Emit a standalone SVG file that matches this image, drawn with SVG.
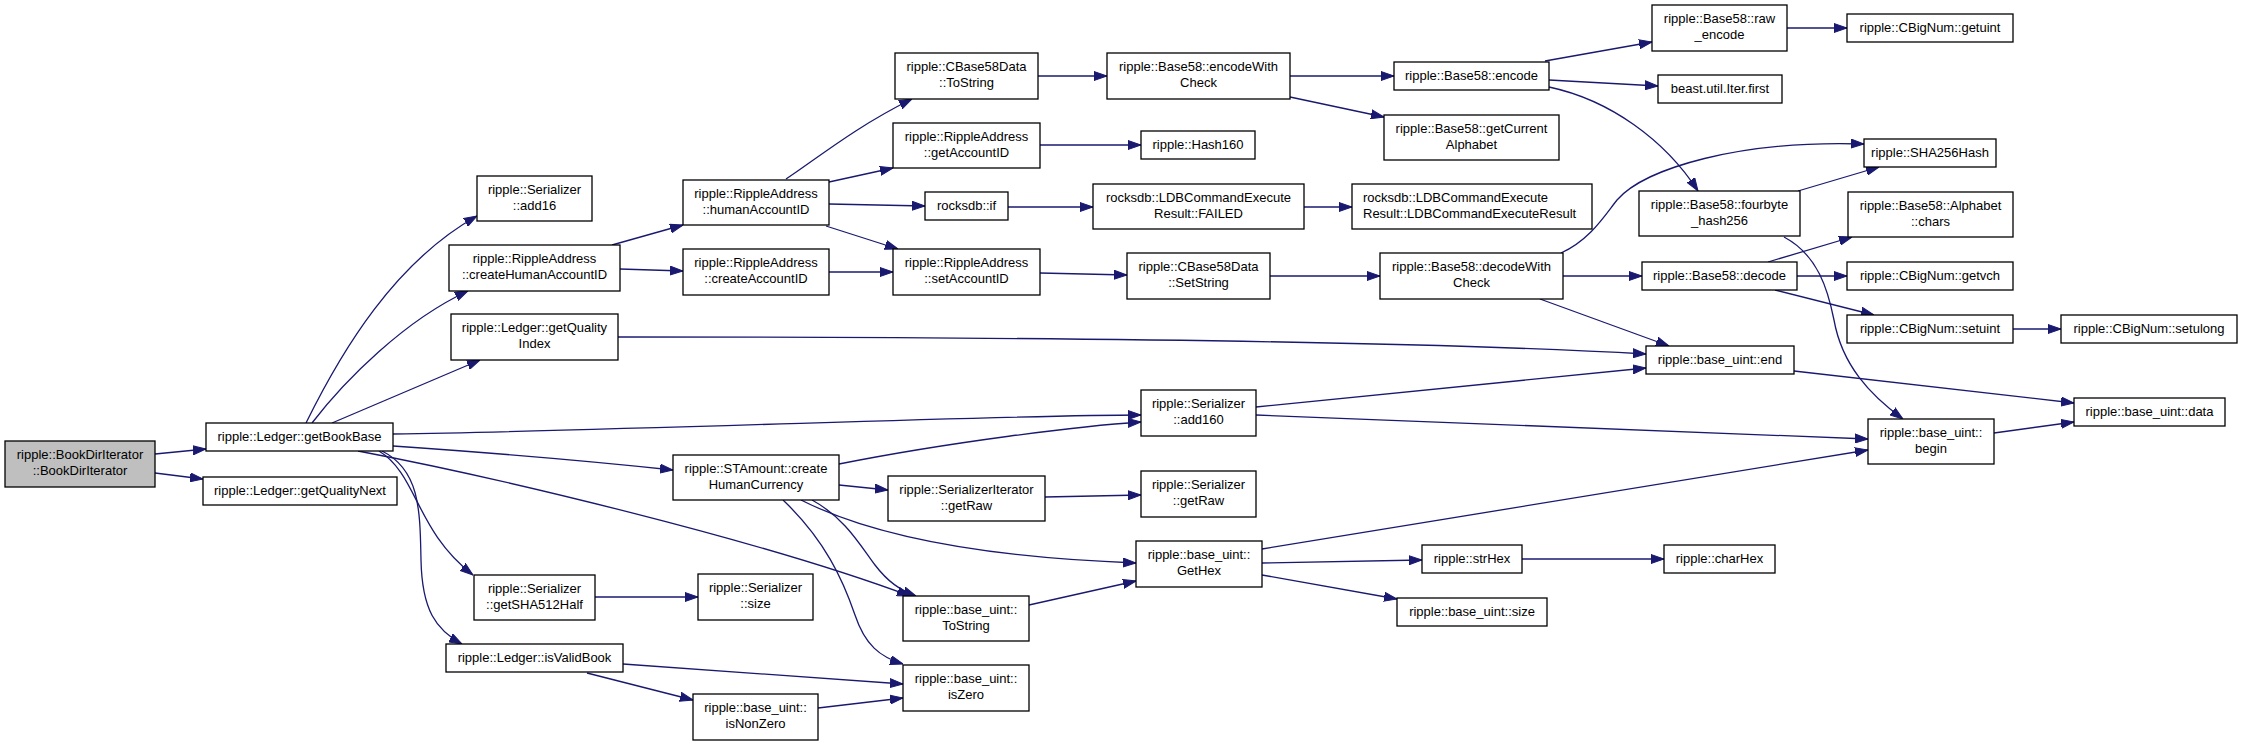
<svg xmlns="http://www.w3.org/2000/svg" width="2243" height="745" viewBox="0 0 2243 745">
<style>
.n rect{fill:#fff;stroke:#000;stroke-width:1.3}
.n.g rect{fill:#bfbfbf}
.n text{font-family:"Liberation Sans",Arial,sans-serif;font-size:13px;fill:#000;text-anchor:middle}
.e path{fill:none;stroke:#191970;stroke-width:1.3;marker-end:url(#a)}
</style>
<defs>
<marker id="a" viewBox="0 0 13 10" refX="13" refY="5" markerWidth="13" markerHeight="10" markerUnits="userSpaceOnUse" orient="auto"><path d="M0,0.5L13,5L0,9.5z" fill="#191970" stroke="#191970" stroke-width="1"/></marker>
</defs>
<rect width="2243" height="745" fill="#fff"/>
<g class="e" id="edges">
<path d="M155,454 L206,449"/>
<path d="M155,473 L203,479"/>
<path d="M306,423 C342,350 395,262 477,216"/>
<path d="M312,423 C345,380 405,320 468,291"/>
<path d="M332,423 L480,360"/>
<path d="M393,434 C650,430 1000,415 1141,415"/>
<path d="M393,446 C480,452 580,460 673,470"/>
<path d="M358,451 C500,478 760,540 910,596"/>
<path d="M379,451 C418,475 415,530 473,575"/>
<path d="M382,451 C420,470 420,510 421,560 C422,610 436,630 462,644"/>
<path d="M595,597 L698,597"/>
<path d="M623,664 L903,684"/>
<path d="M587,673 L693,700"/>
<path d="M818,708 L903,698"/>
<path d="M612,245 L683,225"/>
<path d="M620,269 L683,271"/>
<path d="M786,179 C815,160 855,127 912,99"/>
<path d="M829,182 L893,168"/>
<path d="M829,204 L925,206"/>
<path d="M826,226 L898,249"/>
<path d="M829,272 L893,272"/>
<path d="M1038,76 L1107,76"/>
<path d="M1040,145 L1141,145"/>
<path d="M1008,207 L1093,207"/>
<path d="M1040,273 L1127,275"/>
<path d="M1290,76 L1394,76"/>
<path d="M1290,97 L1384,117"/>
<path d="M1304,207 L1352,207"/>
<path d="M1270,276 L1380,276"/>
<path d="M1545,61 L1652,42"/>
<path d="M1549,80 L1658,86"/>
<path d="M1549,87 C1610,100 1665,140 1698,191"/>
<path d="M1561,253 C1590,240 1605,215 1617,200 C1645,168 1740,140 1864,144"/>
<path d="M1798,191 L1879,167"/>
<path d="M1784,237 C1818,255 1828,290 1834,320 C1842,365 1870,395 1903,419"/>
<path d="M1563,276 L1642,276"/>
<path d="M1540,299 L1669,346"/>
<path d="M1768,262 L1852,237"/>
<path d="M1797,276 L1847,276"/>
<path d="M1775,290 L1874,315"/>
<path d="M2013,329 L2061,329"/>
<path d="M1787,28 L1847,28"/>
<path d="M618,337 C950,337 1400,340 1646,354"/>
<path d="M1256,407 L1646,368"/>
<path d="M1256,415 C1500,423 1720,433 1868,439"/>
<path d="M1262,549 L1868,450"/>
<path d="M1262,563 L1422,560"/>
<path d="M1262,575 L1397,599"/>
<path d="M1522,559 L1664,559"/>
<path d="M1794,371 L2074,403"/>
<path d="M1994,433 L2074,422"/>
<path d="M1045,497 L1141,495"/>
<path d="M1029,605 L1136,581"/>
<path d="M839,464 C950,442 1080,426 1141,422"/>
<path d="M839,485 L888,490"/>
<path d="M812,500 C845,518 860,545 875,565 C888,582 900,590 916,596"/>
<path d="M783,500 C825,540 843,580 855,615 C865,645 880,657 903,664"/>
<path d="M801,500 C880,540 1000,558 1136,563"/>
</g>
<g class="n g" id="n1"><rect x="5" y="441" width="150" height="46"/><text x="80" y="458.5">ripple::BookDirIterator</text><text x="80" y="475">::BookDirIterator</text></g>
<g class="n" id="n2"><rect x="206" y="423" width="187" height="28"/><text x="299.5" y="441">ripple::Ledger::getBookBase</text></g>
<g class="n" id="n3"><rect x="203" y="477" width="194" height="28"/><text x="300" y="495">ripple::Ledger::getQualityNext</text></g>
<g class="n" id="n4"><rect x="477" y="176" width="115" height="45"/><text x="534.5" y="193.5">ripple::Serializer</text><text x="534.5" y="210">::add16</text></g>
<g class="n" id="n5"><rect x="449" y="245" width="171" height="46"/><text x="534.5" y="262.5">ripple::RippleAddress</text><text x="534.5" y="279">::createHumanAccountID</text></g>
<g class="n" id="n6"><rect x="451" y="314" width="167" height="46"/><text x="534.5" y="331.5">ripple::Ledger::getQuality</text><text x="534.5" y="348">Index</text></g>
<g class="n" id="n7"><rect x="474" y="575" width="121" height="45"/><text x="534.5" y="592.5">ripple::Serializer</text><text x="534.5" y="609">::getSHA512Half</text></g>
<g class="n" id="n8"><rect x="446" y="644" width="177" height="28"/><text x="534.5" y="662">ripple::Ledger::isValidBook</text></g>
<g class="n" id="n9"><rect x="683" y="180" width="146" height="45"/><text x="756" y="197.5">ripple::RippleAddress</text><text x="756" y="214">::humanAccountID</text></g>
<g class="n" id="n10"><rect x="683" y="249" width="146" height="46"/><text x="756" y="266.5">ripple::RippleAddress</text><text x="756" y="283">::createAccountID</text></g>
<g class="n" id="n11"><rect x="673" y="455" width="166" height="45"/><text x="756" y="472.5">ripple::STAmount::create</text><text x="756" y="489">HumanCurrency</text></g>
<g class="n" id="n12"><rect x="698" y="574" width="115" height="46"/><text x="755.5" y="591.5">ripple::Serializer</text><text x="755.5" y="608">::size</text></g>
<g class="n" id="n13"><rect x="693" y="694" width="125" height="46"/><text x="755.5" y="711.5">ripple::base_uint::</text><text x="755.5" y="728">isNonZero</text></g>
<g class="n" id="n14"><rect x="895" y="53" width="143" height="46"/><text x="966.5" y="70.5">ripple::CBase58Data</text><text x="966.5" y="87">::ToString</text></g>
<g class="n" id="n15"><rect x="893" y="123" width="147" height="45"/><text x="966.5" y="140.5">ripple::RippleAddress</text><text x="966.5" y="157">::getAccountID</text></g>
<g class="n" id="n16"><rect x="925" y="192" width="83" height="28"/><text x="966.5" y="210">rocksdb::if</text></g>
<g class="n" id="n17"><rect x="893" y="249" width="147" height="46"/><text x="966.5" y="266.5">ripple::RippleAddress</text><text x="966.5" y="283">::setAccountID</text></g>
<g class="n" id="n18"><rect x="888" y="476" width="157" height="45"/><text x="966.5" y="493.5">ripple::SerializerIterator</text><text x="966.5" y="510">::getRaw</text></g>
<g class="n" id="n19"><rect x="903" y="596" width="126" height="45"/><text x="966" y="613.5">ripple::base_uint::</text><text x="966" y="630">ToString</text></g>
<g class="n" id="n20"><rect x="903" y="665" width="126" height="46"/><text x="966" y="682.5">ripple::base_uint::</text><text x="966" y="699">isZero</text></g>
<g class="n" id="n21"><rect x="1107" y="53" width="183" height="46"/><text x="1198.5" y="70.5">ripple::Base58::encodeWith</text><text x="1198.5" y="87">Check</text></g>
<g class="n" id="n22"><rect x="1141" y="131" width="114" height="28"/><text x="1198" y="149">ripple::Hash160</text></g>
<g class="n" id="n23"><rect x="1093" y="184" width="211" height="45"/><text x="1198.5" y="201.5">rocksdb::LDBCommandExecute</text><text x="1198.5" y="218">Result::FAILED</text></g>
<g class="n" id="n24"><rect x="1127" y="253" width="143" height="46"/><text x="1198.5" y="270.5">ripple::CBase58Data</text><text x="1198.5" y="287">::SetString</text></g>
<g class="n" id="n25"><rect x="1141" y="390" width="115" height="46"/><text x="1198.5" y="407.5">ripple::Serializer</text><text x="1198.5" y="424">::add160</text></g>
<g class="n" id="n26"><rect x="1141" y="471" width="115" height="46"/><text x="1198.5" y="488.5">ripple::Serializer</text><text x="1198.5" y="505">::getRaw</text></g>
<g class="n" id="n27"><rect x="1136" y="541" width="126" height="46"/><text x="1199" y="558.5">ripple::base_uint::</text><text x="1199" y="575">GetHex</text></g>
<g class="n" id="n28"><rect x="1394" y="62" width="155" height="28"/><text x="1471.5" y="80">ripple::Base58::encode</text></g>
<g class="n" id="n29"><rect x="1384" y="115" width="175" height="45"/><text x="1471.5" y="132.5">ripple::Base58::getCurrent</text><text x="1471.5" y="149">Alphabet</text></g>
<g class="n" id="n30"><rect x="1352" y="184" width="240" height="45"/><text x="1363" y="201.5" style="text-anchor:start">rocksdb::LDBCommandExecute</text><text x="1363" y="218" style="text-anchor:start">Result::LDBCommandExecuteResult</text></g>
<g class="n" id="n31"><rect x="1380" y="253" width="183" height="46"/><text x="1471.5" y="270.5">ripple::Base58::decodeWith</text><text x="1471.5" y="287">Check</text></g>
<g class="n" id="n32"><rect x="1422" y="545" width="100" height="28"/><text x="1472" y="563">ripple::strHex</text></g>
<g class="n" id="n33"><rect x="1397" y="598" width="150" height="28"/><text x="1472" y="616">ripple::base_uint::size</text></g>
<g class="n" id="n34"><rect x="1652" y="5" width="135" height="46"/><text x="1719.5" y="22.5">ripple::Base58::raw</text><text x="1719.5" y="39">_encode</text></g>
<g class="n" id="n35"><rect x="1658" y="75" width="124" height="28"/><text x="1720" y="93">beast.util.Iter.first</text></g>
<g class="n" id="n36"><rect x="1639" y="191" width="161" height="45"/><text x="1719.5" y="208.5">ripple::Base58::fourbyte</text><text x="1719.5" y="225">_hash256</text></g>
<g class="n" id="n37"><rect x="1642" y="262" width="155" height="28"/><text x="1719.5" y="280">ripple::Base58::decode</text></g>
<g class="n" id="n38"><rect x="1646" y="346" width="148" height="28"/><text x="1720" y="364">ripple::base_uint::end</text></g>
<g class="n" id="n39"><rect x="1664" y="545" width="111" height="28"/><text x="1719.5" y="563">ripple::charHex</text></g>
<g class="n" id="n40"><rect x="1847" y="14" width="166" height="28"/><text x="1930" y="32">ripple::CBigNum::getuint</text></g>
<g class="n" id="n41"><rect x="1864" y="139" width="132" height="28"/><text x="1930" y="157">ripple::SHA256Hash</text></g>
<g class="n" id="n42"><rect x="1848" y="192" width="165" height="45"/><text x="1930.5" y="209.5">ripple::Base58::Alphabet</text><text x="1930.5" y="226">::chars</text></g>
<g class="n" id="n43"><rect x="1847" y="262" width="166" height="28"/><text x="1930" y="280">ripple::CBigNum::getvch</text></g>
<g class="n" id="n44"><rect x="1847" y="315" width="166" height="28"/><text x="1930" y="333">ripple::CBigNum::setuint</text></g>
<g class="n" id="n45"><rect x="1868" y="419" width="126" height="45"/><text x="1931" y="436.5">ripple::base_uint::</text><text x="1931" y="453">begin</text></g>
<g class="n" id="n46"><rect x="2061" y="315" width="176" height="28"/><text x="2149" y="333">ripple::CBigNum::setulong</text></g>
<g class="n" id="n47"><rect x="2074" y="398" width="151" height="28"/><text x="2149.5" y="416">ripple::base_uint::data</text></g>
</svg>
